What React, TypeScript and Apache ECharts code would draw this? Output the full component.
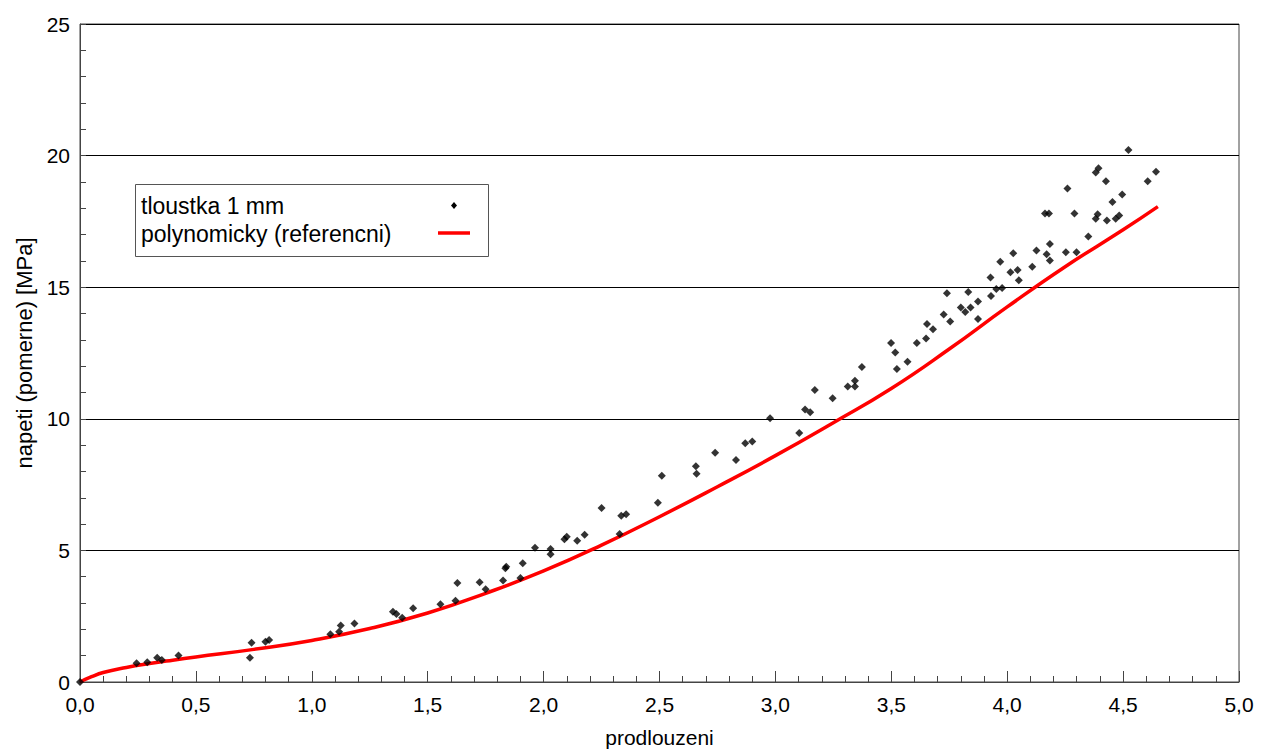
import React, { useEffect, useRef } from "react";
import * as echarts from "echarts";

const xTickLabels = ["0,0", "0,5", "1,0", "1,5", "2,0", "2,5", "3,0", "3,5", "4,0", "4,5", "5,0"];

const measuredX = [
  0, 0.244, 0.29, 0.333, 0.353, 0.425, 0.733, 0.74, 0.8, 0.816, 1.08, 1.118, 1.125, 1.184, 1.35, 1.365, 1.39,
  1.437, 1.555, 1.62, 1.628, 1.724, 1.75, 1.825, 1.835, 1.839, 1.9, 1.91, 1.963, 2.03, 2.03, 2.09, 2.1, 2.145,
  2.177, 2.25, 2.328, 2.335, 2.356, 2.493, 2.51, 2.657, 2.66, 2.74, 2.83, 2.87, 2.9, 2.977, 3.103, 3.128, 3.15,
  3.17, 3.247, 3.312, 3.343, 3.343, 3.373, 3.499, 3.517, 3.524, 3.57, 3.61, 3.65, 3.654, 3.68, 3.726, 3.74, 3.754,
  3.8, 3.819, 3.832, 3.842, 3.874, 3.874, 3.928, 3.93, 3.953, 3.97, 3.978, 4.014, 4.026, 4.045, 4.05, 4.108, 4.126,
  4.163, 4.18, 4.17, 4.184, 4.184, 4.253, 4.26, 4.29, 4.299, 4.35, 4.382, 4.394, 4.382, 4.39, 4.426, 4.43, 4.454,
  4.468, 4.483, 4.496, 4.523, 4.606, 4.642,
];
const measuredY = [
  0, 0.71, 0.75, 0.92, 0.84, 1.01, 0.92, 1.49, 1.53, 1.6, 1.81, 1.91, 2.15, 2.22, 2.67, 2.58, 2.44,
  2.8, 2.95, 3.09, 3.76, 3.79, 3.52, 3.86, 4.32, 4.38, 3.95, 4.51, 5.1, 5.05, 4.85, 5.42, 5.52, 5.37,
  5.59, 6.61, 5.62, 6.32, 6.37, 6.81, 7.84, 8.2, 7.91, 8.71, 8.43, 9.07, 9.14, 10.02, 9.46, 10.35, 10.25,
  11.09, 10.78, 11.23, 11.45, 11.23, 11.97, 12.88, 12.52, 11.89, 12.17, 12.88, 13.05, 13.6, 13.4, 13.96, 14.77, 13.7,
  14.23, 14.06, 14.82, 14.23, 14.46, 13.79, 15.37, 14.67, 14.93, 15.97, 14.97, 15.57, 16.29, 15.65, 15.26, 15.78, 16.39,
  17.8, 17.8, 16.25, 16.64, 16.01, 16.33, 18.75, 17.8, 16.33, 16.93, 19.36, 19.52, 17.6, 17.77, 19.03, 17.53, 18.24,
  17.6, 17.72, 18.52, 20.21, 19.03, 19.39,
];

const curveX = [0, 0.05, 0.1, 0.2, 0.3, 0.4, 0.5, 0.75, 1.0, 1.25, 1.5, 1.75, 2.0, 2.25, 2.5, 2.75, 3.0, 3.25, 3.5, 3.75, 4.0, 4.25, 4.5, 4.65];
const curveY = [0, 0.2, 0.36, 0.55, 0.7, 0.83, 0.95, 1.24, 1.58, 2.03, 2.62, 3.37, 4.22, 5.2, 6.28, 7.42, 8.6, 9.85, 11.15, 12.65, 14.25, 15.78, 17.18, 18.06];

const seriesNames = ["tloustka 1 mm", "polynomicky (referencni)"];
const xAxisName = "prodlouzeni";
const yAxisName = "napeti (pomerne) [MPa]";

const FONT = "'Liberation Sans', Arial, sans-serif";

export default function App() {
  const ref = useRef<HTMLDivElement>(null);
  useEffect(() => {
    if (!ref.current) return;
    const chart = echarts.init(ref.current, undefined, { renderer: "svg" });
    const scatterData = measuredX.map((x, i) => [x, measuredY[i]]);
    const curveData = curveX.map((x, i) => [x, curveY[i]]);
    chart.setOption({
      animation: false,
      backgroundColor: "#fff",
      textStyle: { fontFamily: FONT },
      grid: {
        left: 80,
        right: 22,
        top: 24,
        bottom: 71,
        containLabel: false,
        outerBoundsMode: "none",
        show: true,
        borderColor: "#444",
        borderWidth: 1,
        backgroundColor: "transparent",
      },
      xAxis: {
        type: "value",
        min: 0,
        max: 5,
        interval: 0.5,
        name: xAxisName,
        nameLocation: "middle",
        nameGap: 45,
        nameTextStyle: { fontSize: 21, color: "#000", fontFamily: FONT },
        axisLine: { lineStyle: { color: "#444", width: 1 } },
        axisTick: { show: true, inside: true, length: 11, lineStyle: { color: "#444" } },
        minorTick: { show: true, splitNumber: 5, length: 6, lineStyle: { color: "#444" } },
        axisLabel: {
          fontSize: 21,
          color: "#000",
          margin: 12,
          fontFamily: FONT,
          formatter: (v: number) => xTickLabels[Math.round(v / 0.5)] ?? "",
        },
        splitLine: { show: false },
      },
      yAxis: {
        type: "value",
        min: 0,
        max: 25,
        interval: 5,
        name: yAxisName,
        nameLocation: "middle",
        nameGap: 45,
        nameTextStyle: { fontSize: 22, color: "#000", fontFamily: FONT },
        axisLine: { show: true, lineStyle: { color: "#444", width: 1 } },
        axisTick: { show: true, inside: true, length: 6, lineStyle: { color: "#444" } },
        minorTick: { show: true, splitNumber: 5, length: 6, lineStyle: { color: "#444" } },
        axisLabel: { fontSize: 21, color: "#000", margin: 10, fontFamily: FONT },
        splitLine: { show: true, lineStyle: { color: "#000", width: 1 } },
      },
      series: [
        {
          name: seriesNames[1],
          type: "line",
          data: curveData,
          smooth: true,
          showSymbol: false,
          lineStyle: { color: "#ff0000", width: 3.5 },
          z: 2,
        },
        {
          name: seriesNames[0],
          type: "scatter",
          data: scatterData,
          symbol: "diamond",
          symbolSize: 8,
          itemStyle: { color: "#000" },
          z: 3,
        },
      ],
      graphic: [
        {
          type: "rect",
          left: 135,
          top: 184,
          z: 100,
          shape: { width: 353, height: 72 },
          style: { fill: "#fff", stroke: "#555", lineWidth: 1 },
        },
        {
          type: "text",
          x: 141,
          y: 206,
          z: 101,
          style: { text: seriesNames[0], font: `23px ${FONT}`, fill: "#000", verticalAlign: "middle", align: "left" },
        },
        {
          type: "text",
          x: 141,
          y: 234,
          z: 101,
          style: { text: seriesNames[1], font: `23px ${FONT}`, fill: "#000", verticalAlign: "middle", align: "left" },
        },
        {
          type: "polygon",
          z: 101,
          shape: { points: [[454, 202], [457, 205.5], [454, 209], [451, 205.5]] },
          style: { fill: "#000" },
        },
        {
          type: "line",
          z: 101,
          shape: { x1: 438, y1: 233, x2: 470, y2: 233 },
          style: { stroke: "#ff0000", lineWidth: 3.5 },
        },
      ],
    });
    return () => chart.dispose();
  }, []);
  return (
    <div
      ref={ref}
      style={{ position: "fixed", left: 0, top: 0, width: 1261, height: 753, background: "#fff" }}
    />
  );
}
